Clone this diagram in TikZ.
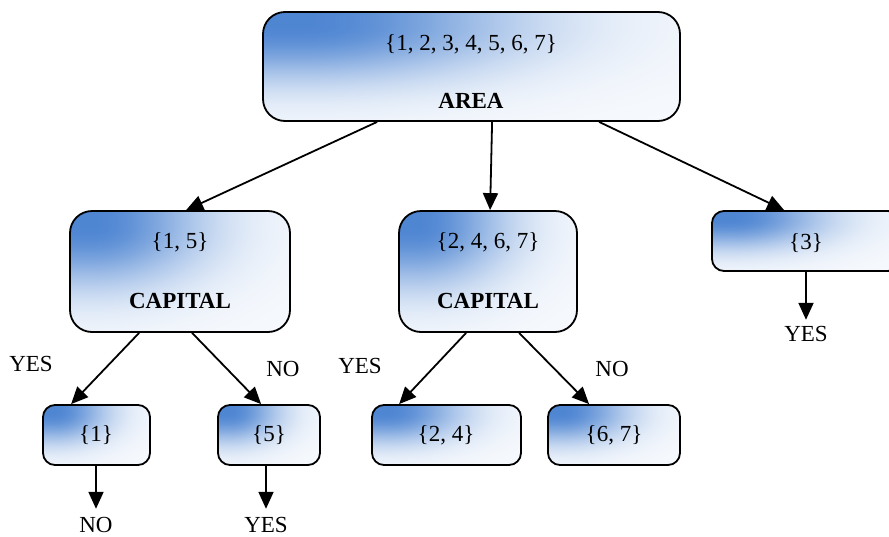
\documentclass[tikz,border=0pt]{standalone}
\usepackage{fontspec}
\setmainfont{Liberation Serif}
\usetikzlibrary{arrows.meta}
% Blue (RGB 79,134,210) glow in the upper-left corner of a box, fading to a pale tint.
% Visible square is 25bp..75bp; u runs left->right, w top->bottom.
\pgfdeclarefunctionalshading{cornerglow}{\pgfpoint{0bp}{0bp}}{\pgfpoint{100bp}{100bp}}{}{
  75 exch sub 50 div
  0.12 sub dup abs add 2 div 0.5 div dup mul neg 2.71828 exch exp
  exch
  25 sub 50 div
  0.1 sub dup abs add 2 div 0.5 div dup mul neg 2.71828 exch exp
  mul 0.95 mul 0.05 add
  dup 0.69 mul 1 exch sub
  exch dup 0.475 mul 1 exch sub
  exch 0.176 mul 1 exch sub
}
\begin{document}
\begin{tikzpicture}[x=1pt,y=-1pt,
  setbox/.style={draw=black, line width=1.8pt, rectangle, shading=cornerglow},
  bigbox/.style={setbox, rounded corners=22pt},
  smallbox/.style={setbox, rounded corners=12pt, minimum height=60pt},
  txt/.style={font=\fontsize{23}{27}\selectfont, inner sep=2pt,
    text height=16pt, text depth=0pt},
  bold/.style={txt, font=\fontsize{23}{27}\selectfont\bfseries},
  arr/.style={line width=1.8pt, -{Triangle[length=17pt,width=15pt]}},
]
\useasboundingbox (0,0) rectangle (889,536);
\clip (0,0) rectangle (889,536);

% boxes
\node[bigbox, minimum width=417pt, minimum height=109pt] (root) at (471.5,66.5) {};
\node[bigbox, minimum width=220pt, minimum height=121pt] (n15) at (180,271.5) {};
\node[bigbox, minimum width=178pt, minimum height=121pt] (n2467) at (488,271.5) {};
\node[smallbox, minimum width=188pt] (n3) at (806,241) {};
\node[smallbox, minimum width=107pt] (n1) at (96.5,435) {};
\node[smallbox, minimum width=102pt] (n5) at (269,435) {};
\node[smallbox, minimum width=149pt] (n24) at (446.5,435) {};
\node[smallbox, minimum width=132pt] (n67) at (614,435) {};

% box texts
\node[txt] (rootset) at (471,42) {\{1, 2, 3, 4, 5, 6, 7\}};
\node[bold] (rootname) at (471,100) {AREA};
\node[txt] (set15) at (180,240) {\{1, 5\}};
\node[bold] (name15) at (180,300) {CAPITAL};
\node[txt] (set2467) at (488,240) {\{2, 4, 6, 7\}};
\node[bold] (name2467) at (488,300) {CAPITAL};
\node[txt] (set3) at (806,241) {\{3\}};
\node[txt] (set1) at (96,433) {\{1\}};
\node[txt] (set5) at (269,433) {\{5\}};
\node[txt] (set24) at (446,433) {\{2, 4\}};
\node[txt] (set67) at (614,433) {\{6, 7\}};

% branch labels
\node[txt] (yesA) at (31,363) {YES};
\node[txt] (noA) at (283,368) {NO};
\node[txt] (yesB) at (360,365) {YES};
\node[txt] (noB) at (612,368) {NO};

% leaf outcomes
\node[txt] (out1) at (96,524) {NO};
\node[txt] (out5) at (266,524) {YES};
\node[txt] (out3) at (806,333) {YES};

% connectors
\draw[arr] ([xshift=115pt]root.south west) -- ([xshift=117pt]n15.north west);
\draw[arr] ([xshift=230pt]root.south west) -- ([xshift=92pt]n2467.north west);
\draw[arr] ([xshift=337pt]root.south west) -- ([xshift=73pt]n3.north west);
\draw[arr] ([xshift=70pt]n15.south west) -- ([xshift=29pt]n1.north west);
\draw[arr] ([xshift=123pt]n15.south west) -- ([xshift=44pt]n5.north west);
\draw[arr] ([xshift=68pt]n2467.south west) -- ([xshift=28pt]n24.north west);
\draw[arr] ([xshift=121pt]n2467.south west) -- ([xshift=42pt]n67.north west);
\draw[arr, shorten >=5pt] (n1.south -| out1) -- (out1.north);
\draw[arr, shorten >=5pt] (n5.south -| out5) -- (out5.north);
\draw[arr, shorten >=3pt] (n3.south) -- (out3.north);
\end{tikzpicture}
\end{document}
